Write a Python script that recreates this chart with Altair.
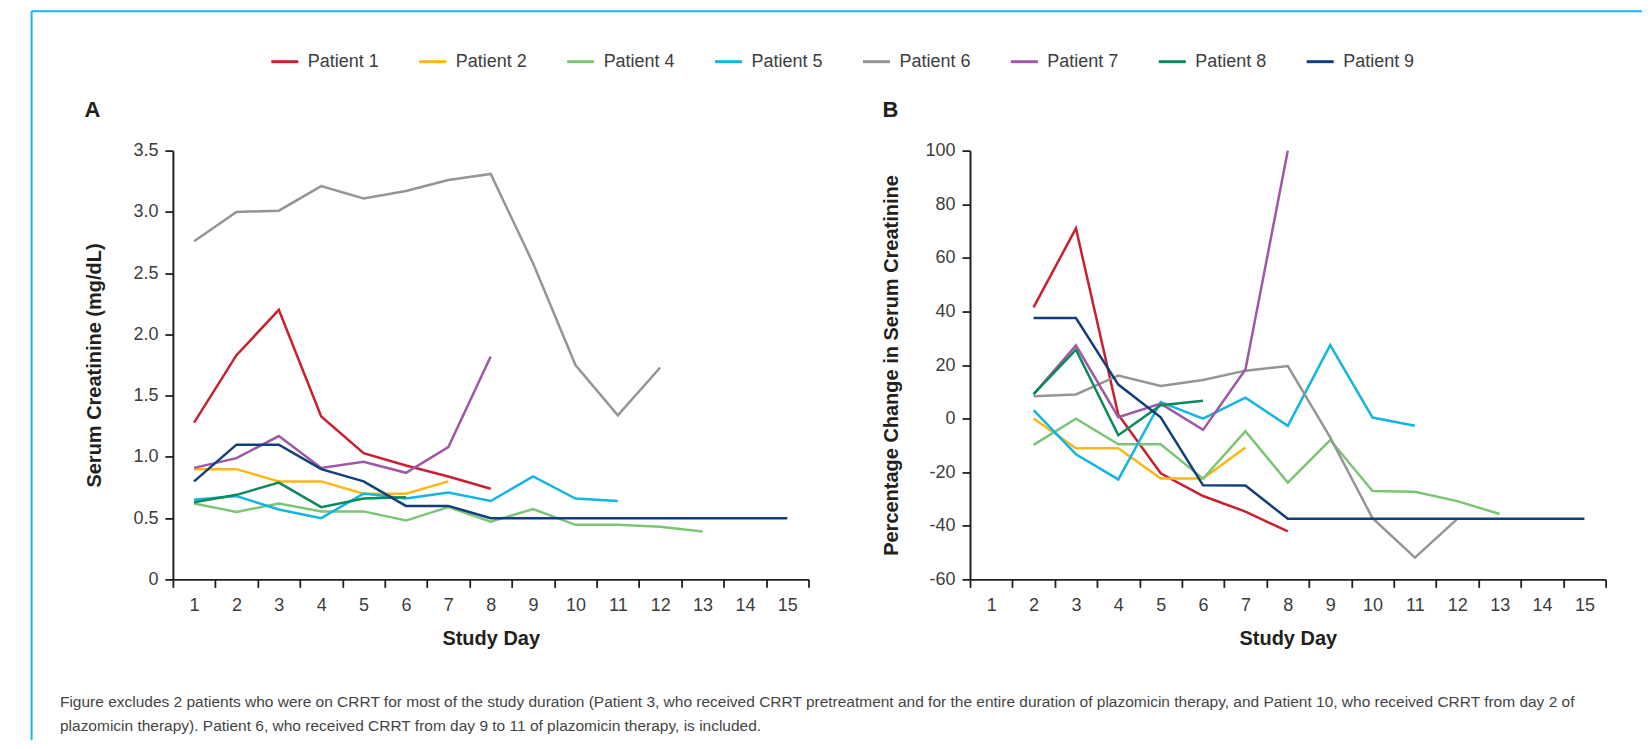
import altair as alt
import pandas as pd

days = list(range(1, 16))
patients = ["Patient 1", "Patient 2", "Patient 4", "Patient 5",
            "Patient 6", "Patient 7", "Patient 8", "Patient 9"]
colors = ["#c8202f", "#fdb714", "#7cc576", "#13b5e2",
          "#939598", "#9e58a6", "#0a8a5a", "#123f7a"]

# Panel A: serum creatinine (mg/dL), starting at study day 1
scr_p1 = [1.28, 1.83, 2.20, 1.33, 1.03, 0.93, 0.84, 0.74]
scr_p2 = [0.90, 0.90, 0.80, 0.80, 0.70, 0.70, 0.80]
scr_p4 = [0.62, 0.55, 0.62, 0.555, 0.555, 0.48, 0.59, 0.47, 0.574, 0.445, 0.445, 0.43, 0.39]
scr_p5 = [0.65, 0.68, 0.57, 0.50, 0.70, 0.66, 0.71, 0.64, 0.84, 0.66, 0.64]
scr_p6 = [2.76, 3.00, 3.01, 3.21, 3.11, 3.17, 3.26, 3.31, 2.58, 1.75, 1.34, 1.73]
scr_p7 = [0.91, 0.99, 1.17, 0.91, 0.96, 0.87, 1.08, 1.82]
scr_p8 = [0.63, 0.69, 0.79, 0.59, 0.66, 0.67]
scr_p9 = [0.80, 1.10, 1.10, 0.90, 0.80, 0.60, 0.60, 0.50, 0.50, 0.50, 0.50, 0.50, 0.50, 0.50, 0.50]

# Panel B: percentage change in serum creatinine, starting at study day 2
pct_p1 = [41.5, 71.0, 1.4, -20.4, -28.9, -34.7, -42.1]
pct_p2 = [0.0, -11.1, -11.1, -22.4, -22.4, -10.8]
pct_p4 = [-9.8, 0.0, -9.6, -9.6, -22.4, -4.7, -23.9, -8.0, -27.0, -27.3, -30.8, -35.6]
pct_p5 = [3.2, -13.3, -22.7, 6.2, 0.0, 7.8, -2.7, 27.4, 0.4, -2.7]
pct_p6 = [8.3, 9.0, 16.1, 12.2, 14.4, 17.9, 19.6, -7.0, -37.2, -51.9, -37.4]
pct_p7 = [9.1, 27.3, 0.5, 5.6, -4.2, 18.3, 100.0]
pct_p8 = [9.1, 25.7, -6.2, 5.0, 6.7]
pct_p9 = [37.5, 37.5, 12.7, 0.5, -24.9, -25.0, -37.4, -37.4, -37.4, -37.4, -37.4, -37.4, -37.4, -37.4]

y_ticks_a = [0, 0.5, 1.0, 1.5, 2.0, 2.5, 3.0, 3.5]
y_ticks_b = [-60, -40, -20, 0, 20, 40, 60, 80, 100]

footnote_1 = ("Figure excludes 2 patients who were on CRRT for most of the study duration "
              "(Patient 3, who received CRRT pretreatment and for the entire duration of "
              "plazomicin therapy, and Patient 10, who received CRRT from day 2 of")
footnote_2 = ("plazomicin therapy). Patient 6, who received CRRT from day 9 to 11 of "
              "plazomicin therapy, is included.")

series_a = [scr_p1, scr_p2, scr_p4, scr_p5, scr_p6, scr_p7, scr_p8, scr_p9]
series_b = [pct_p1, pct_p2, pct_p4, pct_p5, pct_p6, pct_p7, pct_p8, pct_p9]

rows_a = []
for name, vals in zip(patients, series_a):
    for i, v in enumerate(vals):
        rows_a.append({"patient": name, "day": i + 1, "value": v})
rows_b = []
for name, vals in zip(patients, series_b):
    for i, v in enumerate(vals):
        rows_b.append({"patient": name, "day": i + 2, "value": v})
df_a = pd.DataFrame(rows_a)
df_b = pd.DataFrame(rows_b)
one = pd.DataFrame({"k": [0]})

FONT = "Liberation Sans"
INK = "#231f20"
LABEL = "#3d3d3d"
W, H = 636, 429

axis_style = dict(domainColor=INK, domainWidth=2, tickColor=INK, tickWidth=1.8,
                  tickSize=8, labelFont=FONT, labelFontSize=18, labelColor=LABEL,
                  titleFont=FONT, titleFontSize=20, titleFontWeight="bold",
                  titleColor=INK, grid=False)

x_scale = alt.Scale(type="band", domain=days, paddingInner=0, paddingOuter=0)


def x_enc():
    return alt.X("day:O", bandPosition=0.5, scale=x_scale,
                 axis=alt.Axis(title="Study Day", labelAngle=0, tickBand="extent",
                               labelPadding=9, titleBaseline="middle",
                               titleX=W / 2, titleY=59, **axis_style))


color_scale = alt.Scale(domain=patients, range=colors)

lines_a = alt.Chart(df_a).mark_line(strokeWidth=2.5).encode(
    x=x_enc(),
    y=alt.Y("value:Q", scale=alt.Scale(domain=[0, 3.5], nice=False, zero=False),
            axis=alt.Axis(title="Serum Creatinine (mg/dL)", values=y_ticks_a,
                          labelExpr="datum.value == 0 ? '0' : format(datum.value, '.1f')",
                          labelPadding=7, titleBaseline="middle",
                          titleX=-78.4, titleY=H / 2, **axis_style)),
    color=alt.Color("patient:N", scale=color_scale, sort=patients,
                    legend=alt.Legend(title=None, orient="none", legendX=97, legendY=-104,
                                      direction="horizontal", columns=8,
                                      symbolType="stroke", symbolSize=729,
                                      symbolStrokeWidth=3, labelFont=FONT,
                                      labelFontSize=18, labelColor=LABEL,
                                      labelOffset=8, columnPadding=33, padding=0)),
)

lines_b = alt.Chart(df_b).mark_line(strokeWidth=2.5).encode(
    x=x_enc(),
    y=alt.Y("value:Q", scale=alt.Scale(domain=[-60, 100], nice=False, zero=False),
            axis=alt.Axis(title="Percentage Change in Serum Creatinine", values=y_ticks_b,
                          labelExpr="datum.value < 0 ? '-' + abs(datum.value) : '' + datum.value",
                          labelPadding=7, titleBaseline="middle",
                          titleX=-78.6, titleY=H / 2, **axis_style)),
    color=alt.Color("patient:N", scale=color_scale, sort=patients, legend=None),
)

FRAME = "#1db5e8"
frame_left = alt.Chart(one).mark_rule(color=FRAME, strokeWidth=2).encode(
    x=alt.value(-141.4), y=alt.value(-139.5), y2=alt.value(590))
frame_top = alt.Chart(one).mark_rule(color=FRAME, strokeWidth=2).encode(
    x=alt.value(-141.4), x2=alt.value(1470), y=alt.value(-139.5))


def label_text(txt, x, y, size, weight="normal", color=INK):
    return alt.Chart(one).mark_text(align="left", baseline="alphabetic", font=FONT,
                                    fontSize=size, fontWeight=weight, color=color).encode(
        x=alt.value(x), y=alt.value(y), text=alt.value(txt))


letter_a = label_text("A", -88.4, -34, 22, "bold")
letter_b = label_text("B", -87.6, -34, 22, "bold")
note_1 = label_text(footnote_1, -113, 557, 15.5, color="#444444")
note_2 = label_text(footnote_2, -113, 581, 15.5, color="#444444")

panel_a = alt.layer(lines_a, frame_left, frame_top, letter_a, note_1, note_2).properties(
    width=W, height=H)
panel_b = alt.layer(lines_b, letter_b).properties(width=W, height=H)

chart = alt.hconcat(panel_a, panel_b, spacing=161.6, bounds="flush").resolve_scale(
    color="independent"
).properties(
    padding={"left": 22, "top": 1.5, "right": 0, "bottom": 0}
).configure_view(stroke=None)

chart.save("out.html", embed_options={"renderer": "svg", "actions": False})
